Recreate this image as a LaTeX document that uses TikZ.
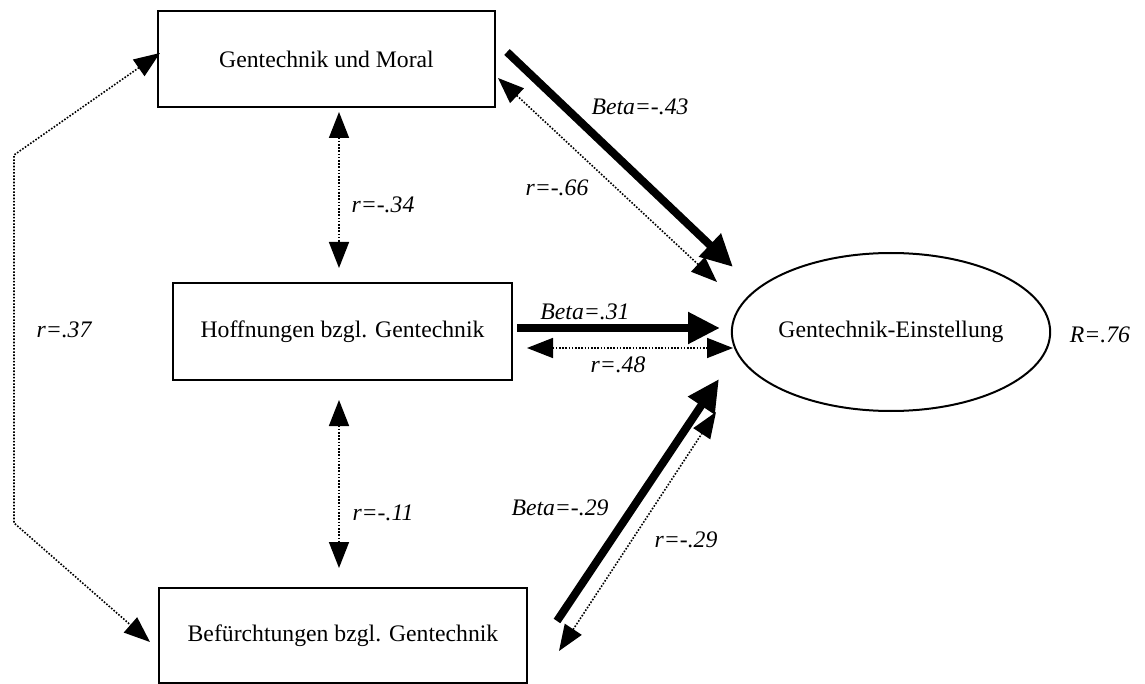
\documentclass[tikz,border=0pt]{standalone}
\usepackage{fontspec}
\setmainfont{Liberation Serif}
\usetikzlibrary{arrows.meta,shapes.geometric}
\tikzset{
  box/.style={draw,line width=2pt,rectangle,inner sep=0pt},
  oval/.style={draw,line width=2pt,ellipse,inner sep=0pt,minimum width=316pt,minimum height=158pt},
  lbl/.style={font=\fontsize{23.7pt}{28pt}\selectfont\itshape,inner sep=0pt},
  thick arrow/.style={line width=8pt,-{Triangle[length=32pt,width=30pt]}},
  corr/.style={line width=1.6pt,dash pattern=on 1.6pt off 1.6pt,{Triangle[length=26pt,width=20pt]}-{Triangle[length=26pt,width=20pt]}},
  corr1/.style={line width=1.6pt,dash pattern=on 1.6pt off 1.6pt,-{Triangle[length=26pt,width=20pt]}}
}
\begin{document}
\begin{tikzpicture}[x=1pt,y=-1pt,font=\fontsize{23.7pt}{28pt}\selectfont]
\useasboundingbox (0,0) rectangle (1145,684);
% boxes
\node[box,minimum width=337pt,minimum height=96pt] (moral) at (326.5,59) {Gentechnik und Moral};
\node[box,minimum width=339pt,minimum height=97pt] (hoff) at (342.5,331.5) {Hoffnungen bzgl. Gentechnik};
\node[box,minimum width=368pt,minimum height=95pt] (bef) at (343,635.5) {Befürchtungen bzgl. Gentechnik};
\node[oval] (ein) at (891,332) {Gentechnik-Einstellung};
% arrow end points
\coordinate (a1s) at (507,52);  \coordinate (a1e) at (733,267);
\coordinate (a2s) at (498,78);  \coordinate (a2e) at (717,282);
\coordinate (a3s) at (339,112); \coordinate (a3e) at (339,268);
\coordinate (a4s) at (339,400); \coordinate (a4e) at (339,568);
\coordinate (a5s) at (517,328); \coordinate (a5e) at (720,328);
\coordinate (a6s) at (527,348); \coordinate (a6e) at (733,348);
\coordinate (a7s) at (557,621); \coordinate (a7e) at (719,379);
\coordinate (a8s) at (559,651); \coordinate (a8e) at (716,412);
\coordinate (a9s) at (160,53);  \coordinate (a9b) at (14,155);
\coordinate (a9c) at (14,523);  \coordinate (a9e) at (150,642);
% connectors
\draw[thick arrow] (a1s) -- (a1e);
\draw[corr] (a2s) -- (a2e);
\draw[corr] (a3s) -- (a3e);
\draw[corr] (a4s) -- (a4e);
\draw[thick arrow] (a5s) -- (a5e);
\draw[corr] (a6s) -- (a6e);
\draw[thick arrow] (a7s) -- (a7e);
\draw[corr] (a8s) -- (a8e);
\draw[corr] (a9s) -- (a9b) -- (a9c) -- (a9e);
% labels
\node[lbl] (l1) at (640,107) {Beta=-.43};
\node[lbl] (l2) at (557,188) {r=-.66};
\node[lbl] (l3) at (383,205) {r=-.34};
\node[lbl] (l4) at (64,330) {r=.37};
\node[lbl] (l5) at (585,312) {Beta=.31};
\node[lbl] (l6) at (618,365) {r=.48};
\node[lbl] (l7) at (560,508) {Beta=-.29};
\node[lbl] (l8) at (383,513) {r=-.11};
\node[lbl] (l9) at (686,540) {r=-.29};
\node[lbl] (l10) at (1100,335) {R=.76};
\end{tikzpicture}
\end{document}
